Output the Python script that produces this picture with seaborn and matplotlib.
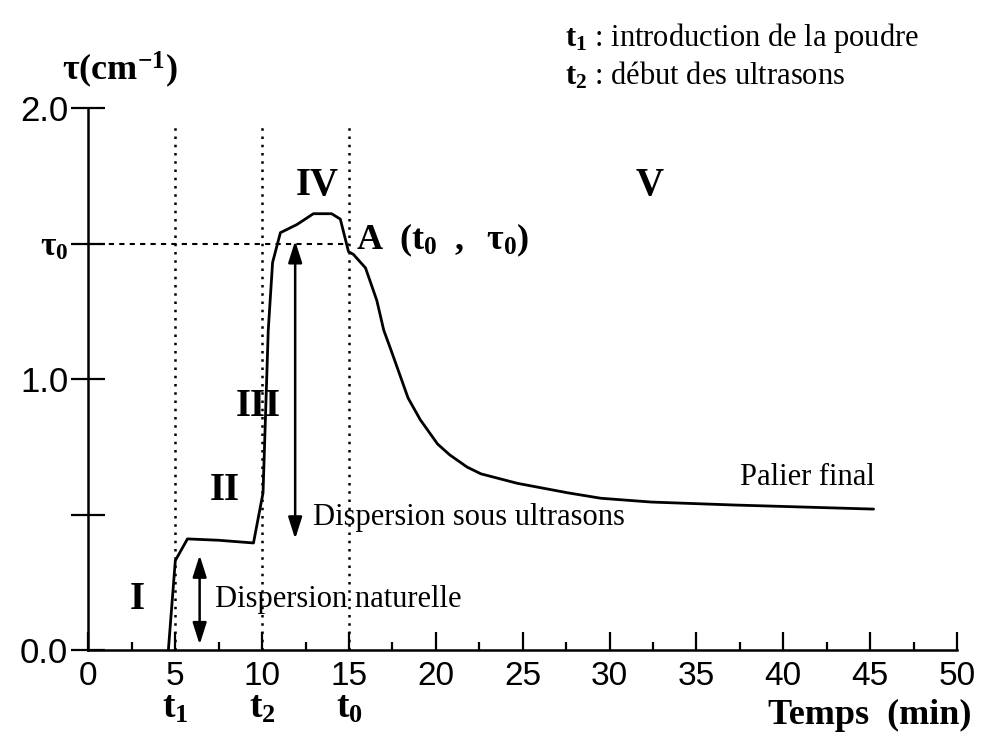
import matplotlib
matplotlib.use("Agg")
import matplotlib.pyplot as plt
import numpy as np
import pandas as pd
import seaborn as sns

# curve: time (min) vs turbidity tau (cm-1)
time_min = [4.6, 5.0, 5.7, 7.5, 9.5, 10.05, 10.35, 10.6, 11.05, 12.0, 12.95,
            14.0, 14.5, 14.97, 15.25, 15.95, 16.6, 17.0, 17.4, 18.4, 19.1,
            20.1, 20.8, 21.8, 22.6, 24.7, 27.6, 29.5, 32.4, 37.2, 45.2]
tau = [0.0, 0.33, 0.41, 0.405, 0.395, 0.58, 1.18, 1.43, 1.54, 1.57, 1.61,
       1.61, 1.59, 1.47, 1.46, 1.41, 1.29, 1.18, 1.11, 0.93, 0.85,
       0.76, 0.72, 0.675, 0.65, 0.615, 0.58, 0.56, 0.546, 0.535, 0.52]

x_ticks = [0, 5, 10, 15, 20, 25, 30, 35, 40, 45, 50]
y_ticks = [0.0, 0.5, 1.0, 1.5, 2.0]
y_tick_labels = ["0.0", "", "1.0", r"$\mathbf{τ_0}$", "2.0"]
event_times = [5, 10, 15]
event_labels = [r"$\mathbf{t_1}$", r"$\mathbf{t_2}$", r"$\mathbf{t_0}$"]
tau0 = 1.5
phases = ["I", "II", "III", "IV", "V"]
phase_x = [2.8, 7.85, 9.8, 13.2, 32.3]
phase_y = [0.185, 0.59, 0.90, 1.715, 1.715]

sns.set_theme(style="ticks")
plt.rcParams["font.family"] = ["Liberation Serif", "DejaVu Serif"]
plt.rcParams["mathtext.fontset"] = "custom"
plt.rcParams["mathtext.rm"] = "Liberation Serif"
plt.rcParams["mathtext.bf"] = "Liberation Serif:bold"
plt.rcParams["mathtext.it"] = "Liberation Serif:italic"
plt.rcParams["text.color"] = "black"
plt.rcParams["xtick.color"] = "black"
plt.rcParams["ytick.color"] = "black"

df = pd.DataFrame({"time": time_min, "tau": tau})

fig = plt.figure(figsize=(9.83, 7.45), dpi=100)
ax = fig.add_axes([0.090, 0.1275, 0.8835, 0.7275])

sns.lineplot(data=df, x="time", y="tau", color="black", lw=2.0,
             estimator=None, sort=False, ax=ax)

for t in event_times:
    ax.plot([t, t], [0, 1.93], color="black", ls=(0, (1, 2.3)), lw=1.8)
ax.plot([0, 15], [tau0, tau0], color="black", ls=(0, (2.5, 2.5)), lw=1.5)

ax.set_xlim(0, 50)
ax.set_ylim(0, 2.0)
ax.set_xlabel("")
ax.set_ylabel("")
sns.despine(ax=ax)
for s in ["left", "bottom"]:
    ax.spines[s].set_linewidth(1.8)
    ax.spines[s].set_color("black")

ax.set_xticks(x_ticks)
ax.set_xticks(np.arange(2.5, 50, 5), minor=True)
ax.set_yticks(y_ticks)
ax.set_yticklabels(y_tick_labels)
ax.tick_params(axis="x", which="major", direction="in", length=13, width=1.6,
               pad=8, labelsize=24)
ax.tick_params(axis="x", which="minor", direction="in", length=6, width=1.6)
ax.tick_params(axis="y", direction="inout", length=25, width=1.6, pad=2,
               labelsize=25)
for lab in ax.get_xticklabels() + ax.get_yticklabels():
    lab.set_fontfamily("Liberation Sans")
    lab.set_color("black")
ax.get_yticklabels()[3].set_fontsize(24)
ax.get_yticklabels()[3].set_fontfamily("Liberation Serif")

for t, lab in zip(event_times, event_labels):
    ax.text(t, -0.215, lab, ha="center", va="center", fontsize=27,
            clip_on=False)

for name, px, py in zip(phases, phase_x, phase_y):
    ax.text(px, py, name, ha="center", va="center", fontsize=28,
            fontweight="bold")

ax.text(15.4, 1.513, r"$\mathbf{A\ \ (t_0\ \ ,\ \ τ_0)}$", ha="left",
        va="center", fontsize=26)

arrow = dict(arrowstyle="<|-|>,head_length=1.1,head_width=0.35",
             color="black", lw=1.8, shrinkA=0, shrinkB=0)
ax.annotate("", xy=(6.4, 0.35), xytext=(6.4, 0.02), arrowprops=arrow)
ax.annotate("", xy=(11.9, 1.51), xytext=(11.9, 0.41), arrowprops=arrow)
ax.text(7.3, 0.185, "Dispersion naturelle", ha="left", va="center",
        fontsize=22)
ax.text(12.9, 0.49, "Dispersion sous ultrasons", ha="left", va="center",
        fontsize=22)
ax.text(41.4, 0.635, "Palier final", ha="center", va="center", fontsize=22)

fig.text(62 / 983, 1 - 70 / 745, r"$\mathbf{τ(cm^{-1})}$", ha="left",
         va="center", fontsize=26)
fig.text(972 / 983, 1 - 715 / 745, "Temps  (min)", ha="right", va="center",
         fontsize=26, fontweight="bold")
fig.text(565 / 983, 1 - 38 / 745,
         r"$\mathbf{t_1}$ : introduction de la poudre", ha="left",
         va="center", fontsize=22)
fig.text(565 / 983, 1 - 76 / 745, r"$\mathbf{t_2}$ : début des ultrasons",
         ha="left", va="center", fontsize=22)

fig.savefig("out.png", dpi=100, facecolor="white")
